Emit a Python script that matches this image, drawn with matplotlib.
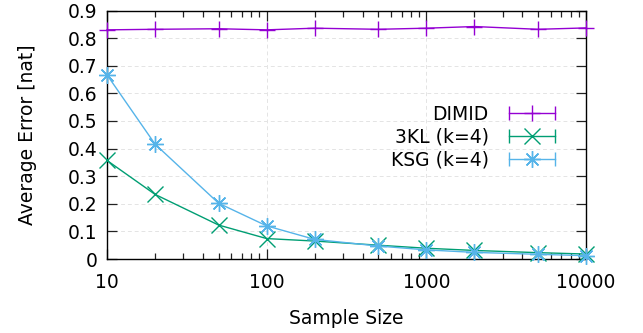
import matplotlib
matplotlib.use('Agg')
import matplotlib.pyplot as plt
from matplotlib.lines import Line2D
from matplotlib.legend_handler import HandlerLine2D

# sample sizes
n = [10, 20, 50, 100, 200, 500, 1000, 2000, 5000, 10000]

# average error [nat] for each estimator
dimid = [0.830, 0.832, 0.834, 0.830, 0.836, 0.832, 0.836, 0.842, 0.832, 0.837]
kl3 = [0.357, 0.234, 0.123, 0.074, 0.065, 0.050, 0.039, 0.031, 0.023, 0.018]
ksg = [0.667, 0.416, 0.202, 0.120, 0.071, 0.047, 0.033, 0.024, 0.017, 0.012]

labels = ['DIMID', '3KL (k=4)', 'KSG (k=4)']
colors = ['#9400d3', '#009e73', '#56b4e9']
markers = ['+', 'x', (8, 2, 0)]

plt.rcParams['font.family'] = 'DejaVu Sans'
plt.rcParams['font.size'] = 13.5

fig = plt.figure(figsize=(6.43, 3.33), dpi=100)
ax = fig.add_axes([0.1664, 0.2222, 0.745, 0.7462])

for y, c, m in zip([dimid, kl3, ksg], colors, markers):
    ax.plot(n, y, color=c, marker=m, markersize=12, markeredgewidth=1.0,
            linewidth=1.0, clip_on=False, zorder=3)

ax.set_xscale('log')
ax.set_xlim(10, 10000)
ax.set_ylim(0, 0.9)
ax.set_xticks([10, 100, 1000, 10000])
ax.set_xticklabels(['10', '100', '1000', '10000'])
ax.set_yticks([0, 0.1, 0.2, 0.3, 0.4, 0.5, 0.6, 0.7, 0.8, 0.9])
ax.set_yticklabels(['0', '0.1', '0.2', '0.3', '0.4', '0.5', '0.6', '0.7', '0.8', '0.9'])

# gnuplot-like ticks on all sides, pointing inward
ax.tick_params(which='both', direction='in', top=True, right=True, width=0.9, color='#222222')
ax.tick_params(which='major', length=7)
ax.tick_params(which='minor', length=4)
ax.tick_params(axis='x', which='major', pad=10)
ax.tick_params(axis='y', which='major', pad=7)
for s in ax.spines.values():
    s.set_linewidth(1.0)

ax.grid(True, which='major', color='#e4e4e4', linestyle=(0, (4, 3)), linewidth=0.7)
ax.set_axisbelow(True)

ax.set_xlabel('Sample Size', labelpad=12)
ax.set_ylabel('Average Error [nat]', labelpad=22)

# legend: errorbar-style handle (line with end caps) plus marker, text on the left
handles = []
hmap = {}
for c, m in zip(colors, markers):
    cap = Line2D([], [], color=c, linewidth=1.0, marker='|', markersize=10, markeredgewidth=1.0)
    mk = Line2D([], [], color=c, linestyle='none', marker=m, markersize=12, markeredgewidth=1.0)
    hmap[cap] = HandlerLine2D(numpoints=2)
    hmap[mk] = HandlerLine2D(numpoints=1)
    handles.append((cap, mk))

ax.legend(handles, labels, handler_map=hmap, loc='upper right',
          bbox_to_anchor=(561 / 643, 0.685), bbox_transform=fig.transFigure,
          frameon=False, markerfirst=False, borderpad=0, borderaxespad=0,
          handlelength=3.1, handletextpad=0.75, labelspacing=0.2)

plt.savefig('out.png', dpi=100)
